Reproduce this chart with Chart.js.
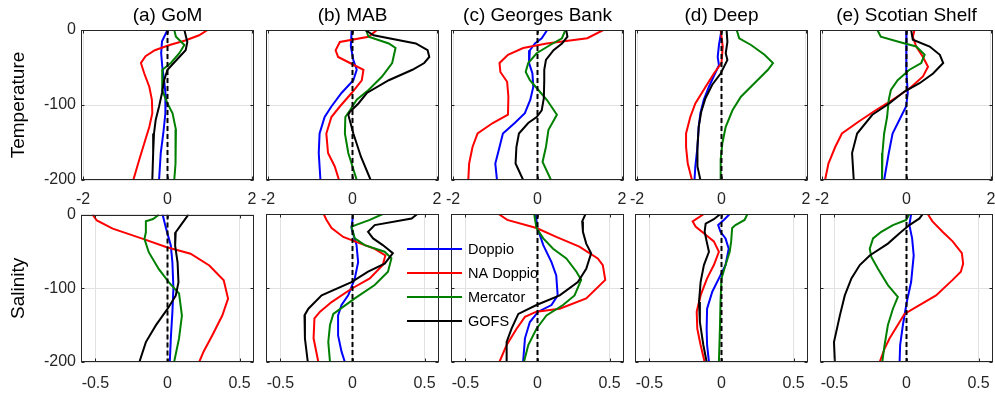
<!DOCTYPE html>
<html><head><meta charset="utf-8">
<script src="https://cdn.jsdelivr.net/npm/chart.js@4.4.1/dist/chart.umd.min.js"></script>
<style>
html,body{margin:0;padding:0;background:#fff;width:995px;height:395px;overflow:hidden;position:relative}
</style></head><body>
<script>
// ---------------- DATA ----------------
const regionTitles = ['(a) GoM', '(b) MAB', '(c) Georges Bank', '(d) Deep', '(e) Scotian Shelf'];
const rowLabels = ['Temperature', 'Salinity'];
const seriesNames = ['Doppio', 'NA Doppio', 'Mercator', 'GOFS'];
const depthTicks = [0, -100, -200];
const tempTicks = [-2, 0, 2];
const saltTicks = [-0.5, 0, 0.5];
const depthRange = [-200, 0];
const tempRange = [-2.05, 2.05];
const saltRange = [-0.6, 0.6];

// each point: [value, depth]
// Temperature
const T_GoM_Doppio   = [[0,0],[-0.13,-15],[-0.15,-31],[-0.12,-51],[-0.08,-67],[-0.04,-89],[-0.05,-111],[-0.1,-138],[-0.16,-164],[-0.2,-200]];
const T_GoM_NADoppio = [[0.95,0],[0.75,-7],[0.42,-14],[0.05,-20],[-0.3,-27],[-0.52,-35],[-0.63,-44],[-0.55,-58],[-0.43,-76],[-0.37,-93],[-0.36,-111],[-0.43,-129],[-0.55,-151],[-0.67,-173],[-0.81,-200]];
const T_GoM_Mercator = [[0.16,0],[0.2,-9],[0.4,-20],[0.28,-31],[0.08,-44],[-0.12,-53],[-0.13,-67],[-0.12,-80],[0,-98],[0.12,-111],[0.2,-133],[0.2,-156],[0.18,-178],[0.16,-200]];
const T_GoM_GOFS     = [[0.4,0],[0.47,-16],[0.43,-27],[0.28,-36],[0,-53],[-0.08,-67],[-0.13,-84],[-0.2,-102],[-0.28,-120],[-0.32,-138],[-0.34,-164],[-0.36,-200]];

const T_MAB_Doppio   = [[-0.02,0],[-0.04,-22],[0.02,-40],[0.1,-53],[0.02,-67],[-0.26,-84],[-0.5,-102],[-0.66,-116],[-0.78,-138],[-0.8,-164],[-0.76,-200]];
const T_MAB_NADoppio = [[0.58,0],[0.38,-9],[-0.3,-16],[-0.4,-27],[-0.34,-36],[-0.06,-44],[0.26,-53],[0.22,-67],[-0.02,-84],[-0.3,-102],[-0.5,-116],[-0.62,-138],[-0.58,-164],[-0.42,-182],[-0.32,-200]];
const T_MAB_Mercator = [[0.32,0],[0.38,-9],[0.86,-18],[1.02,-24],[0.94,-44],[0.7,-62],[0.38,-80],[0.1,-93],[-0.06,-107],[-0.17,-116],[-0.18,-138],[-0.1,-164],[0,-182],[0.1,-200]];
const T_MAB_GOFS     = [[0.3,0],[0.5,-7],[1.5,-18],[1.78,-27],[1.82,-36],[1.7,-44],[1.42,-53],[0.86,-67],[0.34,-84],[0.14,-98],[-0.06,-109],[-0.1,-113],[0.02,-138],[0.2,-169],[0.43,-200]];

const T_GB_Doppio    = [[0.23,0],[0.1,-11],[-0.06,-18],[-0.18,-27],[-0.2,-44],[-0.12,-58],[-0.1,-76],[-0.17,-93],[-0.3,-111],[-0.54,-124],[-0.82,-138],[-0.9,-156],[-1.0,-178],[-0.96,-200]];
const T_GB_NADoppio  = [[1.56,0],[1.18,-11],[0.22,-18],[-0.34,-24],[-0.7,-33],[-0.9,-44],[-0.88,-56],[-0.72,-69],[-0.69,-89],[-0.7,-113],[-1.06,-124],[-1.42,-138],[-1.54,-156],[-1.62,-178],[-1.64,-200]];
const T_GB_Mercator  = [[0.66,0],[0.58,-11],[0.3,-20],[-0.02,-31],[-0.22,-44],[-0.28,-56],[-0.18,-67],[0.02,-80],[0.22,-93],[0.46,-113],[0.26,-133],[0.2,-156],[0.12,-176],[0.32,-200]];
const T_GB_GOFS      = [[0.68,0],[0.71,-9],[0.58,-18],[0.38,-27],[0.2,-40],[0.16,-53],[0.16,-67],[0.15,-91],[0.1,-107],[-0.02,-116],[-0.22,-124],[-0.44,-138],[-0.5,-156],[-0.52,-178],[-0.34,-200]];

const T_Deep_Doppio   = [[0,0],[-0.06,-20],[-0.09,-36],[-0.06,-47],[-0.17,-60],[-0.3,-76],[-0.42,-93],[-0.5,-111],[-0.54,-129],[-0.57,-156],[-0.62,-182],[-0.64,-200]];
const T_Deep_NADoppio = [[-0.02,0],[0.03,-22],[0,-44],[-0.18,-58],[-0.38,-76],[-0.62,-98],[-0.74,-116],[-0.84,-138],[-0.84,-156],[-0.8,-178],[-0.7,-200]];
const T_Deep_Mercator = [[0.36,0],[0.42,-11],[0.7,-20],[1.02,-33],[1.22,-44],[1.1,-53],[0.78,-71],[0.46,-89],[0.26,-107],[0.1,-129],[0.02,-151],[-0.02,-173],[-0.02,-200]];
const T_Deep_GOFS     = [[0.12,0],[0.14,-16],[0.1,-31],[0.14,-40],[-0.02,-58],[-0.22,-73],[-0.38,-91],[-0.48,-109],[-0.54,-129],[-0.57,-156],[-0.57,-182],[-0.5,-200]];

const T_SS_Doppio    = [[0,0],[-0.01,-22],[0,-53],[0.03,-84],[-0.01,-102],[-0.17,-120],[-0.33,-138],[-0.42,-164],[-0.53,-200]];
const T_SS_NADoppio  = [[0.19,0],[0.15,-9],[0.23,-22],[0.39,-36],[0.51,-49],[0.39,-62],[0.07,-78],[-0.33,-93],[-0.73,-107],[-1.13,-122],[-1.53,-138],[-1.69,-156],[-1.85,-178],[-1.93,-200]];
const T_SS_Mercator  = [[-0.69,0],[-0.61,-9],[-0.17,-16],[0.23,-22],[0.43,-33],[0.35,-44],[0.07,-53],[-0.21,-67],[-0.37,-80],[-0.42,-93],[-0.46,-116],[-0.53,-138],[-0.57,-164],[-0.58,-200]];
const T_SS_GOFS      = [[0.11,0],[0.15,-13],[0.55,-22],[0.79,-33],[0.87,-44],[0.63,-58],[0.31,-71],[-0.05,-82],[-0.41,-98],[-0.81,-113],[-1.17,-138],[-1.29,-164],[-1.25,-200]];

// Salinity
const S_GoM_Doppio   = [[-0.034,0],[-0.01,-19],[0.023,-42],[0.034,-65],[0.041,-100],[0.034,-132],[0.023,-168],[0.016,-200]];
const S_GoM_NADoppio = [[-0.52,0],[-0.49,-8],[-0.38,-19],[-0.17,-33],[-0.01,-44],[0.16,-53],[0.29,-69],[0.39,-89],[0.42,-114],[0.38,-137],[0.31,-164],[0.25,-186],[0.22,-200]];
const S_GoM_Mercator = [[-0.06,0],[-0.1,-6],[-0.15,-9],[-0.15,-24],[-0.16,-33],[-0.13,-51],[-0.06,-74],[0.01,-92],[0.08,-107],[0.1,-137],[0.08,-168],[0.046,-200]];
const S_GoM_GOFS     = [[0.145,0],[0.09,-15],[0.057,-24],[0.053,-42],[0.07,-65],[0.076,-92],[0.057,-110],[0,-128],[-0.08,-150],[-0.15,-173],[-0.195,-200]];

const S_MAB_Doppio   = [[0.005,0],[-0.007,-19],[0.028,-42],[0.039,-65],[0.016,-87],[-0.03,-110],[-0.076,-123],[-0.1,-137],[-0.1,-164],[-0.076,-186],[-0.053,-200]];
const S_MAB_NADoppio = [[-0.2,0],[-0.18,-8],[-0.145,-19],[-0.064,-31],[0.016,-37],[0.154,-47],[0.228,-56],[0.21,-69],[0.12,-87],[-0.007,-101],[-0.145,-119],[-0.225,-132],[-0.264,-141],[-0.27,-168],[-0.237,-200]];
const S_MAB_Mercator = [[0.21,0],[0.12,-8],[-0.007,-17],[0.016,-33],[0.085,-42],[0.223,-51],[0.27,-60],[0.246,-78],[0.154,-96],[0.016,-114],[-0.133,-135],[-0.156,-150],[-0.168,-173],[-0.156,-200]];
const S_MAB_GOFS     = [[0.45,0],[0.41,-6],[0.154,-15],[0.108,-24],[0.143,-33],[0.21,-42],[0.28,-53],[0.223,-67],[0.108,-78],[-0.007,-92],[-0.214,-110],[-0.306,-128],[-0.333,-137],[-0.33,-168],[-0.31,-200]];

const S_GB_Doppio    = [[-0.014,0],[0,-19],[0.04,-42],[0.097,-65],[0.13,-83],[0.14,-110],[0.097,-123],[0.005,-132],[-0.053,-146],[-0.087,-168],[-0.1,-200]];
const S_GB_NADoppio  = [[-0.27,0],[-0.21,-8],[-0.007,-19],[0.13,-31],[0.29,-44],[0.418,-60],[0.453,-69],[0.47,-89],[0.338,-114],[0.154,-128],[-0.007,-132],[-0.087,-139],[-0.145,-155],[-0.214,-177],[-0.264,-200]];
const S_GB_Mercator  = [[-0.023,0],[-0.007,-19],[0.04,-33],[0.108,-47],[0.2,-60],[0.27,-78],[0.303,-89],[0.257,-110],[0.177,-123],[0.062,-137],[-0.007,-155],[-0.064,-177],[-0.094,-200]];
const S_GB_GOFS      = [[0.333,0],[0.31,-10],[0.315,-24],[0.338,-40],[0.372,-53],[0.338,-74],[0.28,-92],[0.154,-110],[-0.007,-123],[-0.133,-135],[-0.18,-155],[-0.214,-173],[-0.214,-200]];

const S_Deep_Doppio   = [[0.057,0],[0.016,-8],[-0.023,-15],[-0.007,-24],[0.028,-33],[0.05,-47],[0.028,-69],[-0.018,-87],[-0.064,-105],[-0.1,-128],[-0.103,-155],[-0.1,-177],[-0.087,-200]];
const S_Deep_NADoppio = [[-0.122,0],[-0.2,-10],[-0.18,-17],[-0.11,-28],[-0.053,-37],[-0.018,-51],[-0.053,-69],[-0.1,-87],[-0.145,-110],[-0.172,-132],[-0.168,-155],[-0.145,-177],[-0.117,-200]];
const S_Deep_Mercator = [[0.18,0],[0.16,-8],[0.097,-15],[0.074,-19],[0.067,-37],[0.057,-51],[0.028,-69],[0,-87],[-0.007,-119],[-0.011,-155],[-0.018,-200]];
const S_Deep_GOFS     = [[-0.007,0],[-0.053,-7],[-0.11,-13],[-0.117,-24],[-0.103,-37],[-0.087,-51],[-0.122,-69],[-0.145,-92],[-0.156,-119],[-0.15,-146],[-0.126,-177],[-0.103,-200]];

const S_SS_Doppio    = [[0.032,0],[0.02,-15],[0.039,-33],[0.05,-56],[0.032,-92],[0.002,-119],[-0.025,-150],[-0.044,-177],[-0.048,-200]];
const S_SS_NADoppio  = [[0.147,0],[0.18,-10],[0.25,-24],[0.32,-37],[0.384,-53],[0.393,-67],[0.377,-78],[0.32,-89],[0.205,-110],[0.09,-123],[-0.014,-135],[-0.048,-146],[-0.117,-168],[-0.152,-182],[-0.186,-200]];
const S_SS_Mercator  = [[0.02,0],[-0.002,-8],[-0.094,-15],[-0.175,-24],[-0.232,-33],[-0.255,-47],[-0.244,-58],[-0.198,-74],[-0.129,-96],[-0.06,-112],[-0.094,-128],[-0.129,-150],[-0.152,-177],[-0.168,-200]];
const S_SS_GOFS      = [[0.113,0],[0.09,-6],[0.02,-15],[-0.048,-26],[-0.129,-40],[-0.255,-56],[-0.324,-69],[-0.382,-87],[-0.428,-110],[-0.462,-137],[-0.503,-173],[-0.497,-200]];

const tempData = [
  [T_GoM_Doppio, T_GoM_NADoppio, T_GoM_Mercator, T_GoM_GOFS],
  [T_MAB_Doppio, T_MAB_NADoppio, T_MAB_Mercator, T_MAB_GOFS],
  [T_GB_Doppio, T_GB_NADoppio, T_GB_Mercator, T_GB_GOFS],
  [T_Deep_Doppio, T_Deep_NADoppio, T_Deep_Mercator, T_Deep_GOFS],
  [T_SS_Doppio, T_SS_NADoppio, T_SS_Mercator, T_SS_GOFS]
];
const saltData = [
  [S_GoM_Doppio, S_GoM_NADoppio, S_GoM_Mercator, S_GoM_GOFS],
  [S_MAB_Doppio, S_MAB_NADoppio, S_MAB_Mercator, S_MAB_GOFS],
  [S_GB_Doppio, S_GB_NADoppio, S_GB_Mercator, S_GB_GOFS],
  [S_Deep_Doppio, S_Deep_NADoppio, S_Deep_Mercator, S_Deep_GOFS],
  [S_SS_Doppio, S_SS_NADoppio, S_SS_Mercator, S_SS_GOFS]
];

// ---------------- STYLE / LAYOUT ----------------
const FONT = "'Liberation Sans', Arial, Helvetica, sans-serif";
Chart.defaults.font.family = FONT;
const seriesColors = ['#0000ff', '#ff0000', '#008000', '#000000'];
const boxW = 173;
const colLeft = c => 81 + Math.round(184.75 * c);
const rowGeom = [
  { top: 30, h: 150, T: 30, tickPad: 10 },
  { top: 214, h: 148, T: 14, tickPad: 12 }
];

const framePlugin = {
  id: 'frame',
  afterDatasetsDraw(chart) {
    const { ctx, chartArea: a } = chart;
    const l = Math.round(a.left) + 0.5, r = Math.round(a.right) - 0.5;
    const t = Math.round(a.top) + 0.5, b = Math.round(a.bottom) - 0.5;
    ctx.save();
    ctx.strokeStyle = '#262626';
    ctx.lineWidth = 1;
    ctx.strokeRect(l, t, r - l, b - t);
    ctx.beginPath();
    const xs = chart.scales.x, ys = chart.scales.y;
    xs.ticks.forEach(tk => {
      const p = Math.round(xs.getPixelForValue(tk.value)) + 0.5;
      ctx.moveTo(p, b); ctx.lineTo(p, b - 3);
      ctx.moveTo(p, t); ctx.lineTo(p, t + 3);
    });
    ys.ticks.forEach(tk => {
      const p = Math.round(ys.getPixelForValue(tk.value)) + 0.5;
      ctx.moveTo(l, p); ctx.lineTo(l + 3, p);
      ctx.moveTo(r, p); ctx.lineTo(r - 3, p);
    });
    ctx.stroke();
    ctx.restore();
  }
};

const panelTitlePlugin = {
  id: 'panelTitle',
  afterDraw(chart, args, opts) {
    if (!opts || !opts.text) return;
    const { ctx, chartArea: a } = chart;
    ctx.save();
    ctx.font = '19px ' + FONT;
    ctx.fillStyle = '#000';
    ctx.textAlign = 'center';
    ctx.textBaseline = 'alphabetic';
    ctx.fillText(opts.text, (a.left + a.right) / 2, a.top - 9);
    ctx.restore();
  }
};

const legendPlugin = {
  id: 'inLegend',
  afterDraw(chart, args, opts) {
    if (!opts || !opts.show) return;
    const { ctx, chartArea: a } = chart;
    ctx.save();
    ctx.font = '14.5px ' + FONT;
    ctx.textBaseline = 'middle';
    ctx.textAlign = 'left';
    seriesNames.forEach((name, i) => {
      const y = a.top + 35 + i * 24;
      ctx.strokeStyle = seriesColors[i];
      ctx.lineWidth = 2;
      ctx.beginPath();
      ctx.moveTo(a.left - 44, y);
      ctx.lineTo(a.left + 11, y);
      ctx.stroke();
      ctx.fillStyle = '#000';
      ctx.fillText(name, a.left + 17, y + 0.5);
    });
    ctx.restore();
  }
};

function makePanel(row, col) {
  const g = rowGeom[row];
  const L = col === 0 ? 81 : 60, R = 14, B = 30;
  const W = L + boxW + R, H = g.T + g.h + B;
  const left = colLeft(col) - L, top = g.top - g.T;
  const cv = document.createElement('canvas');
  cv.width = W; cv.height = H;
  cv.style.cssText = `position:absolute;left:${left}px;top:${top}px;width:${W}px;height:${H}px`;
  document.body.appendChild(cv);

  const series = row === 0 ? tempData[col] : saltData[col];
  const xTicks = row === 0 ? tempTicks : saltTicks;
  const xRange = row === 0 ? tempRange : saltRange;

  const datasets = [];
  datasets.push({
    data: [{ x: 0, y: depthRange[1] }, { x: 0, y: depthRange[0] }],
    borderColor: '#000', borderWidth: 2, borderDash: [5, 3],
    showLine: true, pointRadius: 0, fill: false
  });
  for (let s = seriesNames.length - 1; s >= 0; s--) {
    datasets.push({
      label: seriesNames[s],
      data: series[s].map(p => ({ x: p[0], y: p[1] })),
      borderColor: seriesColors[s], borderWidth: 2,
      showLine: true, pointRadius: 0, tension: 0, fill: false
    });
  }

  new Chart(cv, {
    type: 'scatter',
    data: { datasets },
    options: {
      responsive: false, animation: false, events: [],
      devicePixelRatio: 1,
      layout: { padding: { left: 0, right: R, top: g.T, bottom: 0 } },
      plugins: {
        legend: { display: false }, tooltip: { enabled: false }, title: { display: false },
        panelTitle: { text: row === 0 ? regionTitles[col] : '' },
        inLegend: { show: row === 1 && col === 2 }
      },
      scales: {
        x: {
          type: 'linear', position: 'bottom', min: xRange[0], max: xRange[1],
          afterBuildTicks: s => { s.ticks = xTicks.map(v => ({ value: v })); },
          afterFit: s => { s.height = B; },
          grid: { color: '#e2e2e2', lineWidth: 1, drawTicks: false },
          border: { display: false },
          ticks: { font: { size: 16 }, color: '#262626', padding: g.tickPad, maxRotation: 0, autoSkip: false,
                   callback: v => String(v) }
        },
        y: {
          type: 'linear', position: 'left', min: depthRange[0], max: depthRange[1],
          afterBuildTicks: s => { s.ticks = depthTicks.map(v => ({ value: v })); },
          afterFit: s => { s.width = L; },
          grid: { color: '#e2e2e2', lineWidth: 1, drawTicks: false },
          border: { display: false },
          ticks: { display: col === 0, font: { size: 16 }, color: '#262626', padding: 5, autoSkip: false,
                   callback: v => String(v) },
          title: { display: col === 0, text: rowLabels[row], font: { size: 19 }, color: '#000',
                   padding: { top: 7, bottom: 0 } }
        }
      }
    },
    plugins: [framePlugin, panelTitlePlugin, legendPlugin]
  });
}

for (let r = 0; r < 2; r++) for (let c = 0; c < 5; c++) makePanel(r, c);
</script>
</body></html>
